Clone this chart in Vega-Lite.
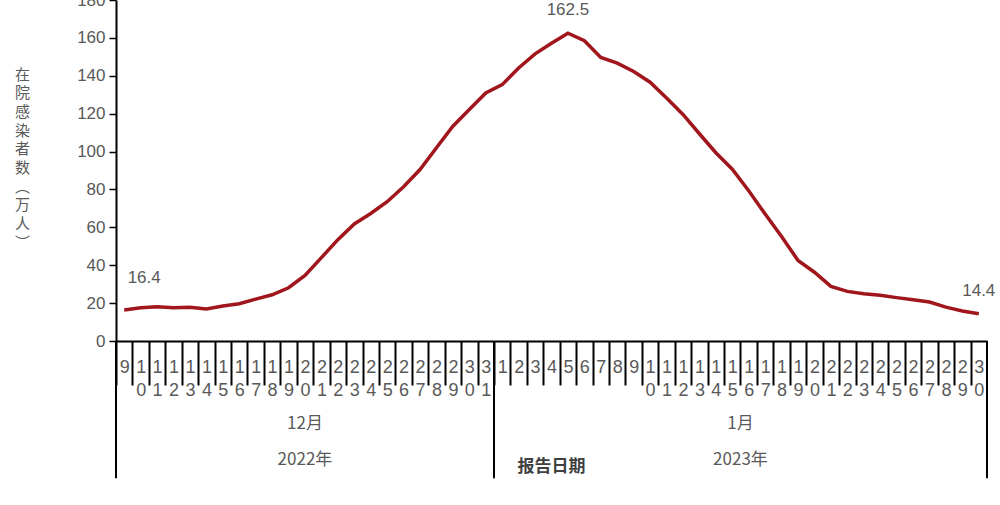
{
  "$schema": "https://vega.github.io/schema/vega-lite/v6.json",
  "width": 871,
  "height": 341,
  "autosize": {"type": "none"},
  "padding": {"left": 116, "top": 0, "right": 13, "bottom": 164},
  "background": "white",
  "config": {
    "view": {"stroke": null},
    "font": "Noto Sans CJK SC",
    "axisY": {
      "tickCount": 10,
      "grid": false,
      "domainColor": "black",
      "domainWidth": 2,
      "tickColor": "black",
      "tickWidth": 1.5,
      "tickSize": 7,
      "labelPadding": 4,
      "labelFont": "Liberation Sans",
      "labelFontSize": 17,
      "labelColor": "#595959",
      "labelOverlap": false,
      "labelFlush": false,
      "titleAngle": 0,
      "titleAlign": "center",
      "titleBaseline": "top",
      "titleX": -94,
      "titleY": 67,
      "titleLineHeight": 18.7,
      "titleFontSize": 15,
      "titleFontWeight": "normal",
      "titleColor": "#595959"
    }
  },
  "datasets": {
    "main": [
      {"date": "2022-12-09", "value": 16.4},
      {"date": "2022-12-10", "value": 17.6},
      {"date": "2022-12-11", "value": 18.1},
      {"date": "2022-12-12", "value": 17.6},
      {"date": "2022-12-13", "value": 17.8},
      {"date": "2022-12-14", "value": 16.9},
      {"date": "2022-12-15", "value": 18.5},
      {"date": "2022-12-16", "value": 19.7},
      {"date": "2022-12-17", "value": 22.1},
      {"date": "2022-12-18", "value": 24.4},
      {"date": "2022-12-19", "value": 28.1},
      {"date": "2022-12-20", "value": 34.6},
      {"date": "2022-12-21", "value": 44.0},
      {"date": "2022-12-22", "value": 53.5},
      {"date": "2022-12-23", "value": 61.8},
      {"date": "2022-12-24", "value": 67.3},
      {"date": "2022-12-25", "value": 73.5},
      {"date": "2022-12-26", "value": 81.4},
      {"date": "2022-12-27", "value": 90.5},
      {"date": "2022-12-28", "value": 102.0},
      {"date": "2022-12-29", "value": 113.4},
      {"date": "2022-12-30", "value": 122.2},
      {"date": "2022-12-31", "value": 130.9},
      {"date": "2023-01-01", "value": 135.3},
      {"date": "2023-01-02", "value": 144.1},
      {"date": "2023-01-03", "value": 151.6},
      {"date": "2023-01-04", "value": 157.2},
      {"date": "2023-01-05", "value": 162.5},
      {"date": "2023-01-06", "value": 158.5},
      {"date": "2023-01-07", "value": 149.7},
      {"date": "2023-01-08", "value": 146.7},
      {"date": "2023-01-09", "value": 142.3},
      {"date": "2023-01-10", "value": 136.6},
      {"date": "2023-01-11", "value": 128.3},
      {"date": "2023-01-12", "value": 119.6},
      {"date": "2023-01-13", "value": 109.4},
      {"date": "2023-01-14", "value": 99.4},
      {"date": "2023-01-15", "value": 90.7},
      {"date": "2023-01-16", "value": 79.3},
      {"date": "2023-01-17", "value": 67.0},
      {"date": "2023-01-18", "value": 55.2},
      {"date": "2023-01-19", "value": 42.5},
      {"date": "2023-01-20", "value": 36.3},
      {"date": "2023-01-21", "value": 28.8},
      {"date": "2023-01-22", "value": 26.2},
      {"date": "2023-01-23", "value": 25.0},
      {"date": "2023-01-24", "value": 24.1},
      {"date": "2023-01-25", "value": 22.9},
      {"date": "2023-01-26", "value": 21.8},
      {"date": "2023-01-27", "value": 20.6},
      {"date": "2023-01-28", "value": 17.9},
      {"date": "2023-01-29", "value": 15.8},
      {"date": "2023-01-30", "value": 14.4}
    ],
    "monthDec": [{"date": "2022-12-20", "month": "12月", "year": "2022年"}],
    "monthJan": [{"date": "2023-01-15", "month": "1月", "year": "2023年"}],
    "startRules": [{"date": "2022-12-09"}, {"date": "2023-01-01"}],
    "endRule": [{"date": "2023-01-30"}],
    "xtitle": [{"date": "2023-01-04", "text": "报告日期"}]
  },
  "encoding": {
    "x": {
      "field": "date",
      "type": "ordinal",
      "scale": {"paddingInner": 0, "paddingOuter": 0},
      "axis": {
        "title": null,
        "domainColor": "black",
        "domainWidth": 2,
        "tickColor": "black",
        "tickWidth": 2,
        "tickSize": 44,
        "tickOffset": -8.22,
        "labelOffset": 8.22,
        "labelAngle": 0,
        "labelAlign": "center",
        "labelBaseline": "top",
        "labelPadding": -27,
        "labelLineHeight": 23,
        "labelFont": "Liberation Sans",
        "labelFontSize": 18,
        "labelColor": "#595959",
        "labelOverlap": false,
        "labelFlush": false,
        "labelExpr": "substring(datum.value,8,9) == '0' ? substring(datum.value,9,10) : [substring(datum.value,8,9), substring(datum.value,9,10)]"
      }
    }
  },
  "layer": [
    {
      "data": {"name": "main"},
      "mark": {"type": "line", "color": "#A0161C", "strokeWidth": 3.5},
      "encoding": {
        "y": {
          "field": "value",
          "type": "quantitative",
          "scale": {"domain": [0, 180], "nice": false, "zero": true},
          "axis": {
            "title": ["在", "院", "感", "染", "者", "数", "︵", "万", "人", "︶"]
          }
        }
      }
    },
    {
      "data": {"name": "main"},
      "transform": [{"filter": "datum.date == '2022-12-09'"}],
      "mark": {"type": "text", "font": "Liberation Sans", "fontSize": 17, "color": "#595959", "dx": 20, "dy": -32},
      "encoding": {
        "y": {"field": "value", "type": "quantitative"},
        "text": {"field": "value", "type": "quantitative", "format": ".1f"}
      }
    },
    {
      "data": {"name": "main"},
      "transform": [{"filter": "datum.date == '2023-01-05' || datum.date == '2023-01-30'"}],
      "mark": {"type": "text", "font": "Liberation Sans", "fontSize": 17, "color": "#595959", "dy": -23},
      "encoding": {
        "y": {"field": "value", "type": "quantitative"},
        "text": {"field": "value", "type": "quantitative", "format": ".1f"}
      }
    },
    {
      "data": {"name": "startRules"},
      "mark": {"type": "rule", "color": "black", "strokeWidth": 2},
      "encoding": {
        "x": {"field": "date", "type": "ordinal", "bandPosition": 0},
        "y": {"datum": 0},
        "y2": {"datum": -72.5}
      }
    },
    {
      "data": {"name": "endRule"},
      "mark": {"type": "rule", "color": "black", "strokeWidth": 2},
      "encoding": {
        "x": {"field": "date", "type": "ordinal", "bandPosition": 1},
        "y": {"datum": 0},
        "y2": {"datum": -72.5}
      }
    },
    {
      "data": {"name": "monthDec"},
      "mark": {"type": "text", "fontSize": 17, "color": "#595959", "baseline": "middle"},
      "encoding": {
        "x": {"field": "date", "type": "ordinal", "bandPosition": 0.5},
        "y": {"datum": -43.8},
        "text": {"field": "month"}
      }
    },
    {
      "data": {"name": "monthDec"},
      "mark": {"type": "text", "fontSize": 17, "color": "#595959", "baseline": "middle"},
      "encoding": {
        "x": {"field": "date", "type": "ordinal", "bandPosition": 0.5},
        "y": {"datum": -62.8},
        "text": {"field": "year"}
      }
    },
    {
      "data": {"name": "monthJan"},
      "mark": {"type": "text", "fontSize": 17, "color": "#595959", "baseline": "middle"},
      "encoding": {
        "x": {"field": "date", "type": "ordinal", "bandPosition": 1},
        "y": {"datum": -43.8},
        "text": {"field": "month"}
      }
    },
    {
      "data": {"name": "monthJan"},
      "mark": {"type": "text", "fontSize": 17, "color": "#595959", "baseline": "middle"},
      "encoding": {
        "x": {"field": "date", "type": "ordinal", "bandPosition": 1},
        "y": {"datum": -62.8},
        "text": {"field": "year"}
      }
    },
    {
      "data": {"name": "xtitle"},
      "mark": {"type": "text", "fontSize": 17, "fontWeight": "bold", "color": "#404040", "baseline": "middle"},
      "encoding": {
        "x": {"field": "date", "type": "ordinal", "bandPosition": 0.5},
        "y": {"datum": -66.5},
        "text": {"field": "text"}
      }
    }
  ]
}
